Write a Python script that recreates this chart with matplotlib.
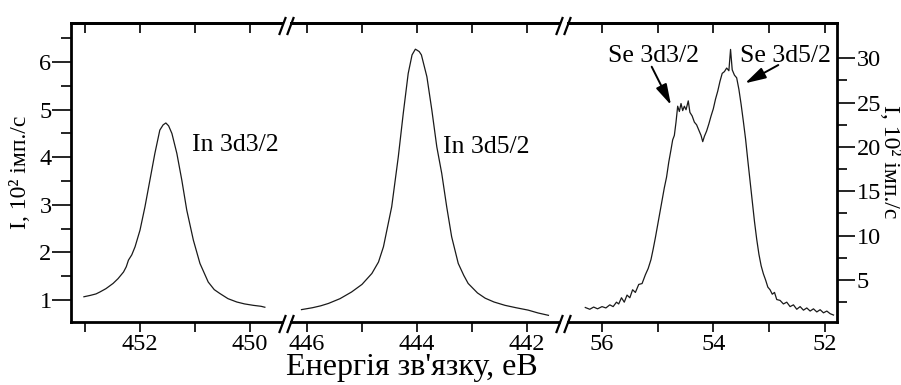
import matplotlib
matplotlib.use("Agg")
import matplotlib.pyplot as plt
from matplotlib.ticker import MultipleLocator, FixedLocator, FormatStrFormatter
from matplotlib.lines import Line2D

plt.rcParams['font.family'] = ['Liberation Serif', 'DejaVu Serif']

# =====================
# 1. дані
# =====================
# In 3d3/2, ліва шкала (10^2 імп./с)
in32_e = [453.02, 452.90, 452.80, 452.73, 452.62, 452.49, 452.40, 452.30, 452.25, 452.21,
          452.15, 452.09, 452.00, 451.91, 451.82, 451.73, 451.64, 451.58, 451.53, 451.48,
          451.42, 451.33, 451.24, 451.15, 451.03, 450.91, 450.76, 450.65, 450.55, 450.40,
          450.24, 450.10, 449.94, 449.80, 449.73]
in32_i = [1.07, 1.10, 1.13, 1.17, 1.24, 1.35, 1.45, 1.59, 1.70, 1.84,
          1.95, 2.12, 2.47, 2.96, 3.52, 4.08, 4.57, 4.68, 4.72, 4.66,
          4.50, 4.08, 3.52, 2.89, 2.26, 1.77, 1.38, 1.22, 1.14, 1.03,
          0.96, 0.92, 0.89, 0.87, 0.85]

# In 3d5/2, ліва шкала
in52_e = [446.10, 445.90, 445.75, 445.61, 445.40, 445.19, 445.00, 444.82, 444.70, 444.61,
          444.46, 444.34, 444.25, 444.16, 444.09, 444.03, 444.00, 443.96, 443.92, 443.82,
          443.73, 443.64, 443.55, 443.46, 443.37, 443.25, 443.15, 443.07, 442.90, 442.76,
          442.60, 442.40, 442.20, 441.98, 441.80, 441.61]
in52_i = [0.80, 0.84, 0.88, 0.93, 1.03, 1.17, 1.33, 1.56, 1.80, 2.12,
          2.96, 4.01, 4.92, 5.76, 6.15, 6.27, 6.25, 6.22, 6.15, 5.69,
          4.99, 4.22, 3.66, 2.96, 2.33, 1.77, 1.52, 1.35, 1.15, 1.04,
          0.96, 0.89, 0.84, 0.79, 0.73, 0.68]

# Se 3d, права шкала
se_e = [56.30, 56.22, 56.15, 56.08, 56.00, 55.93, 55.86, 55.80, 55.74, 55.70,
        55.65, 55.60, 55.55, 55.50, 55.45, 55.40, 55.34, 55.28, 55.22, 55.17,
        55.12, 55.08, 55.04, 55.00, 54.96, 54.92, 54.88, 54.84, 54.80, 54.76,
        54.73, 54.70, 54.67, 54.64, 54.61, 54.58, 54.55, 54.52, 54.49, 54.45,
        54.42, 54.38, 54.34, 54.30, 54.26, 54.22, 54.19, 54.16, 54.12, 54.08,
        54.04, 54.00, 53.96, 53.92, 53.88, 53.84, 53.80, 53.76, 53.72, 53.69,
        53.66, 53.62, 53.58, 53.54, 53.50, 53.46, 53.42, 53.38, 53.34, 53.30,
        53.26, 53.22, 53.18, 53.14, 53.10, 53.06, 53.02, 52.98, 52.94, 52.90,
        52.86, 52.80, 52.74, 52.68, 52.62, 52.56, 52.50, 52.44, 52.38, 52.32,
        52.26, 52.20, 52.14, 52.08, 52.02, 51.96, 51.90, 51.84]
se_i = [1.9, 1.7, 1.95, 1.75, 2.0, 1.85, 2.2, 2.0, 2.5, 2.3,
        3.0, 2.5, 3.3, 3.0, 3.9, 3.6, 4.5, 4.6, 5.6, 6.3,
        7.3, 8.5, 9.8, 11.2, 12.6, 14.0, 15.4, 16.6, 18.3, 19.7,
        20.8, 21.3, 22.8, 24.6, 24.0, 24.9, 24.1, 24.6, 24.2, 25.2,
        23.9, 23.5, 22.8, 22.5, 21.9, 21.3, 20.6, 21.2, 21.8, 22.6,
        23.5, 24.3, 25.4, 26.3, 27.4, 28.3, 28.5, 28.9, 28.6, 31.0,
        28.7, 28.1, 27.8, 26.5, 24.8, 22.9, 20.9, 18.5, 16.2, 13.9,
        11.6, 9.6, 7.9, 6.6, 5.7, 5.0, 4.2, 3.9, 3.4, 3.6,
        2.8, 2.7, 2.3, 2.5, 2.0, 2.2, 1.7, 2.0, 1.6, 1.85,
        1.5, 1.75, 1.4, 1.65, 1.3, 1.5, 1.2, 1.05]

xlabel = "Енергія зв'язку, еВ"
ylabel = "I, 10² імп./с"

# =====================
# 2. фігура і три відрізки осі
# =====================
W, H = 901, 385
fig = plt.figure(figsize=(W / 100, H / 100), dpi=100)


def fx(px):
    return px / W


def fy(py):
    return 1 - py / H


top_px, bot_px = 23, 322
ax_b = fy(bot_px)
ax_h = fy(top_px) - fy(bot_px)

ax1 = fig.add_axes([fx(71), ax_b, fx(282 - 71), ax_h])
ax2 = fig.add_axes([fx(291), ax_b, fx(559 - 291), ax_h])
ax3 = fig.add_axes([fx(568), ax_b, fx(837 - 568), ax_h])

ax1.set_xlim(453.255, 449.418)
ax2.set_xlim(446.291, 441.418)
ax3.set_xlim(56.611, 51.777)
ax1.set_ylim(0.54, 6.82)
ax2.set_ylim(0.54, 6.82)
ax3.set_ylim(0.265, 33.98)

lc = '#1a1a1a'
ax1.plot(in32_e, in32_i, color=lc, lw=0.9)
ax2.plot(in52_e, in52_i, color=lc, lw=0.9)
ax3.plot(se_e, se_i, color=lc, lw=0.9)

# =====================
# 3. осі, тики
# =====================
for ax in (ax1, ax2, ax3):
    for s in ax.spines.values():
        s.set_linewidth(2)
        s.set_visible(False)
    ax.spines['bottom'].set_visible(True)
    ax.spines['top'].set_visible(True)
    ax.xaxis.set_major_locator(MultipleLocator(2))
    ax.xaxis.set_minor_locator(MultipleLocator(1))
    ax.xaxis.set_major_formatter(FormatStrFormatter('%d'))
    ax.tick_params(axis='x', which='both', direction='out', length=7, width=1.2,
                   top=False, labelsize=17.5, pad=1.5)
    ax.tick_params(axis='y', which='both', left=False, right=False,
                   labelleft=False, labelright=False)
    sec = ax.secondary_xaxis('top')
    sec.xaxis.set_major_locator(MultipleLocator(1))
    sec.tick_params(direction='in', length=7, width=1.2, labeltop=False)
    sec.spines['top'].set_linewidth(2)

ax1.spines['left'].set_visible(True)
ax1.yaxis.set_major_locator(MultipleLocator(1))
ax1.yaxis.set_minor_locator(MultipleLocator(0.5))
ax1.yaxis.set_major_formatter(FormatStrFormatter('%d'))
ax1.tick_params(axis='y', which='both', left=True, labelleft=True, direction='out',
                width=1.2, labelsize=17.5, pad=0.5)
ax1.tick_params(axis='y', which='major', length=13.5)
ax1.tick_params(axis='y', which='minor', length=7)

ax3.spines['right'].set_visible(True)
ax3.yaxis.set_major_locator(MultipleLocator(5))
ax3.yaxis.set_minor_locator(FixedLocator([2.5, 7.5, 12.5, 17.5, 22.5, 27.5]))
ax3.yaxis.set_major_formatter(FormatStrFormatter('%d'))
ax3.tick_params(axis='y', which='both', right=True, labelright=True, direction='out',
                width=1.2, labelsize=17.5, pad=1)
ax3.tick_params(axis='y', which='major', length=13)
ax3.tick_params(axis='y', which='minor', length=7)

# розриви //
for xc in (282.5, 290.5, 559.5, 567.5):
    for yc in (26, 324):
        fig.add_artist(Line2D([fx(xc - 3), fx(xc + 3)], [fy(yc + 8), fy(yc - 8)],
                              color='black', lw=1.6))

# =====================
# 4. підписи
# =====================
fig.text(fx(412), fy(368), xlabel, ha='center', va='center', fontsize=23)
fig.text(fx(21), fy(172), ylabel, ha='center', va='center', rotation=90, fontsize=17)
fig.text(fx(889), fy(162), ylabel, ha='center', va='center', rotation=270, fontsize=17)

ax1.text(451.055, 4.256, 'In 3d3/2', ha='left', va='center', fontsize=18.5)
ax2.text(443.527, 4.214, 'In 3d5/2', ha='left', va='center', fontsize=18.5)
ax3.text(55.892, 30.25, 'Se 3d3/2', ha='left', va='center', fontsize=18.5)
ax3.text(53.52, 30.25, 'Se 3d5/2', ha='left', va='center', fontsize=18.5)

arrow = dict(arrowstyle='-|>,head_length=0.9,head_width=0.25', color='black',
             lw=1.4, mutation_scale=14, shrinkA=0, shrinkB=0)
ax3.annotate('', xy=(54.76, 24.73), xytext=(55.107, 29.05), arrowprops=arrow)
ax3.annotate('', xy=(53.43, 27.18), xytext=(52.832, 29.24), arrowprops=arrow)

fig.savefig('out.png', dpi=100)
